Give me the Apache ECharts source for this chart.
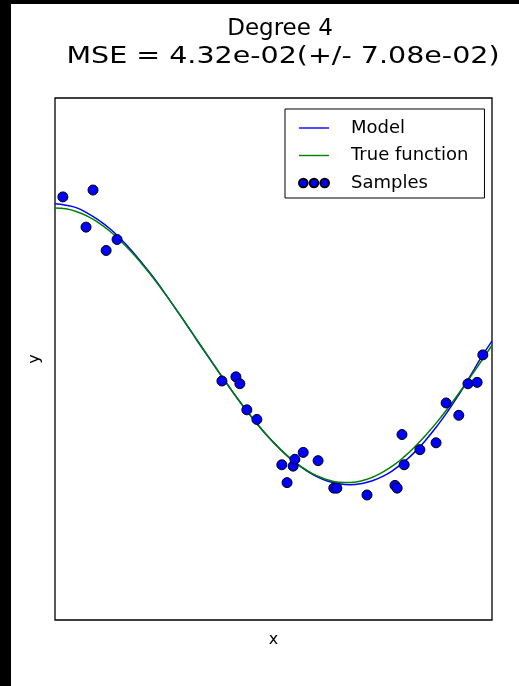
<!DOCTYPE html>
<html>
<head>
<meta charset="utf-8">
<script src="https://cdn.jsdelivr.net/npm/echarts@6/dist/echarts.min.js"></script>
<style>
html,body{margin:0;padding:0;background:#fff;}
#chart{width:519px;height:686px;}
</style>
</head>
<body>
<div id="chart"></div>
<script>
var titleLines = ['Degree 4', 'MSE = 4.32e-02(+/- 7.08e-02)'];
var seriesNames = ['Model', 'True function', 'Samples'];
var curveX = [0, 0.025, 0.05, 0.075, 0.1, 0.125, 0.15, 0.175, 0.2, 0.225, 0.25, 0.275, 0.3, 0.325, 0.35, 0.375, 0.4, 0.425, 0.45, 0.475, 0.5, 0.525, 0.55, 0.575, 0.6, 0.625, 0.65, 0.675, 0.7, 0.725, 0.75, 0.775, 0.8, 0.825, 0.85, 0.875, 0.9, 0.925, 0.95, 0.975, 1.0];
var modelY = [1.03, 1.02, 1.00, 0.96, 0.91, 0.85, 0.775, 0.69, 0.595, 0.495, 0.385, 0.27, 0.155, 0.035, -0.08, -0.197, -0.31, -0.42, -0.523, -0.62, -0.707, -0.787, -0.855, -0.912, -0.957, -0.99, -1.008, -1.015, -1.008, -0.988, -0.955, -0.907, -0.846, -0.772, -0.684, -0.585, -0.475, -0.355, -0.225, -0.09, 0.03];
var trueY = [1.0, 0.993, 0.972, 0.938, 0.891, 0.832, 0.760, 0.679, 0.588, 0.489, 0.383, 0.271, 0.156, 0.039, -0.079, -0.195, -0.309, -0.419, -0.523, -0.619, -0.707, -0.785, -0.853, -0.908, -0.951, -0.981, -0.997, -0.999, -0.988, -0.963, -0.924, -0.873, -0.809, -0.734, -0.649, -0.556, -0.454, -0.346, -0.233, -0.118, 0.0];
var sampleX = [0.018, 0.071, 0.087, 0.117, 0.142, 0.382, 0.414, 0.423, 0.439, 0.462, 0.519, 0.531, 0.545, 0.549, 0.568, 0.602, 0.638, 0.645, 0.714, 0.778, 0.783, 0.794, 0.799, 0.835, 0.872, 0.895, 0.924, 0.945, 0.966, 0.979];
var sampleY = [1.08, 0.86, 1.13, 0.69, 0.77, -0.26, -0.23, -0.28, -0.47, -0.54, -0.87, -1.00, -0.88, -0.83, -0.78, -0.84, -1.04, -1.04, -1.09, -1.02, -1.04, -0.65, -0.87, -0.76, -0.71, -0.42, -0.51, -0.28, -0.27, -0.07];

function zip(a, b) { return a.map(function (v, i) { return [v, b[i]]; }); }

var chart = echarts.init(document.getElementById('chart'), null, {renderer: 'canvas'});
var FONT = 'DejaVu Sans';
chart.setOption({
  backgroundColor: '#ffffff',
  animation: false,
  graphic: [
    {type: 'rect', left: 0, top: 0, shape: {width: 11, height: 686}, style: {fill: '#000'}, z: 100},
    {type: 'rect', left: 0, top: 0, shape: {width: 519, height: 4}, style: {fill: '#000'}, z: 100},
    {type: 'text', x: 280, y: 29, scaleX: 1.0, style: {text: titleLines[0], font: '23px "DejaVu Sans"', fill: '#000', align: 'center', verticalAlign: 'middle'}},
    {type: 'text', x: 283, y: 57, scaleX: 1.24, style: {text: titleLines[1], font: '23px "DejaVu Sans"', fill: '#000', align: 'center', verticalAlign: 'middle'}}
  ],
  grid: {left: 55, top: 98, width: 437, height: 522, show: true, borderColor: '#000', borderWidth: 1.3, backgroundColor: '#fff'},
  legend: {
    orient: 'vertical',
    left: 285, top: 109,
    borderColor: '#000', borderWidth: 1,
    padding: [10, 16, 6, 13],
    itemWidth: 30, itemHeight: 10, itemGap: 9.5,
    symbolKeepAspect: true,
    textStyle: {fontFamily: FONT, fontSize: 18, color: '#000', lineHeight: 14, padding: [0, 0, 0, 17]},
    data: [
      {name: seriesNames[0], icon: 'path://M0,0H30V1.4H0Z'},
      {name: seriesNames[1], icon: 'path://M0,0H30V1.4H0Z'},
      {name: seriesNames[2], icon: 'path://M1,5a4,4 0 1,0 8,0a4,4 0 1,0 -8,0M11,5a4,4 0 1,0 8,0a4,4 0 1,0 -8,0M21,5a4,4 0 1,0 8,0a4,4 0 1,0 -8,0'}
    ]
  },
  xAxis: {
    type: 'value', min: 0, max: 1,
    name: 'x', nameLocation: 'middle', nameGap: 12,
    nameTextStyle: {fontFamily: FONT, fontSize: 16, color: '#000'},
    axisLine: {show: false}, axisTick: {show: false}, axisLabel: {show: false}, splitLine: {show: false}
  },
  yAxis: {
    type: 'value', min: -2, max: 1.8,
    name: 'y', nameLocation: 'middle', nameGap: 12,
    nameTextStyle: {fontFamily: FONT, fontSize: 16, color: '#000'},
    axisLine: {show: false}, axisTick: {show: false}, axisLabel: {show: false}, splitLine: {show: false}
  },
  series: [
    {name: seriesNames[0], type: 'line', data: zip(curveX, modelY), smooth: true, symbol: 'none',
     lineStyle: {color: '#0000ff', width: 1.5}, itemStyle: {color: '#0000ff'}, z: 2},
    {name: seriesNames[1], type: 'line', data: zip(curveX, trueY), smooth: true, symbol: 'none',
     lineStyle: {color: '#008000', width: 1.5}, itemStyle: {color: '#008000'}, z: 3},
    {name: seriesNames[2], type: 'scatter', data: zip(sampleX, sampleY), symbol: 'circle', symbolSize: 10,
     itemStyle: {color: '#0000ff', borderColor: '#000', borderWidth: 1, opacity: 1}, z: 4}
  ]
});
</script>
</body>
</html>
